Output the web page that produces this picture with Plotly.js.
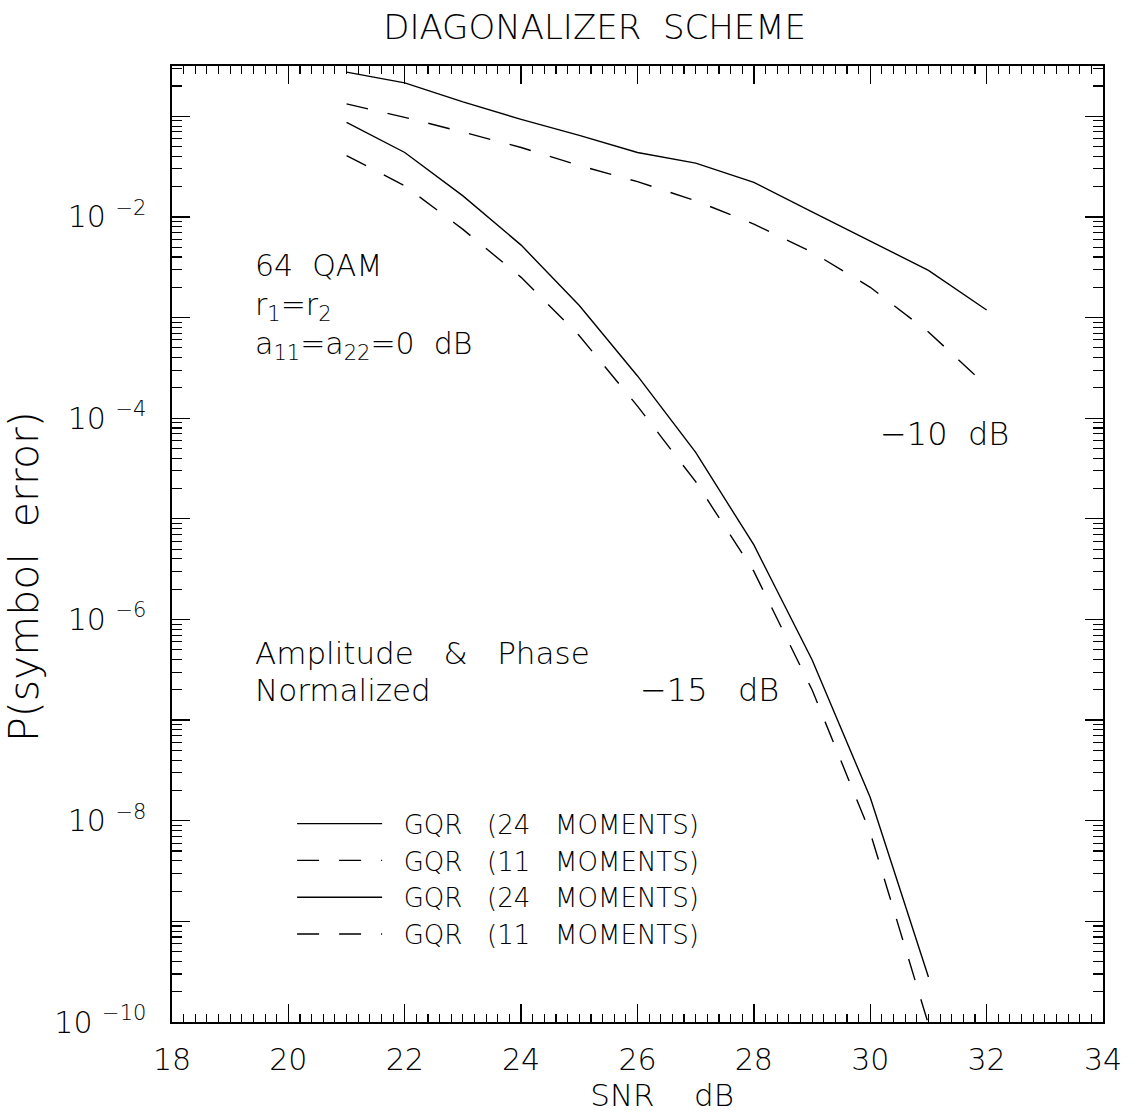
<!DOCTYPE html>
<html>
<head>
<meta charset="utf-8">
<script src="https://cdn.plot.ly/plotly-3.0.1.min.js"></script>
<style>html,body{margin:0;padding:0;background:#fff;}</style>
</head>
<body>
<div id="chart" style="width:1129px;height:1119px;"></div>
<script>
// SNR values (dB)
const snrMinus10 = [21, 22, 23, 24, 25, 26, 27, 28, 29, 30, 31, 32];
const snrMinus15 = [21, 22, 23, 24, 25, 26, 27, 28, 29, 30, 31];

// P(symbol error)
const gqr24Minus10 = [0.275, 0.215, 0.139, 0.0933, 0.0646, 0.0437, 0.0343, 0.0221, 0.0112, 0.00575, 0.00295, 0.00119];
const gqr11Minus10 = [0.133, 0.0977, 0.0697, 0.049, 0.0324, 0.0224, 0.0145, 0.0085, 0.00447, 0.0020, 0.00072, 0.00021];
const gqr24Minus15 = [0.0871, 0.0437, 0.0162, 0.00525, 0.00132, 2.63e-4, 4.57e-5, 5.5e-6, 3.98e-7, 1.7e-8, 2.8e-10];
const gqr11Minus15 = [0.0407, 0.0204, 0.00752, 0.00251, 6.6e-4, 1.32e-4, 2.34e-5, 3.0e-6, 2.0e-7, 7.6e-9, 9.5e-11];

const seriesNames = [
  '&nbsp;&nbsp;GQR&nbsp;&nbsp;&nbsp;(24&nbsp;&nbsp;&nbsp;MOMENTS)',
  '&nbsp;&nbsp;GQR&nbsp;&nbsp;&nbsp;(11&nbsp;&nbsp;&nbsp;MOMENTS)',
  '&nbsp;&nbsp;GQR&nbsp;&nbsp;&nbsp;(24&nbsp;&nbsp;&nbsp;MOMENTS)',
  '&nbsp;&nbsp;GQR&nbsp;&nbsp;&nbsp;(11&nbsp;&nbsp;&nbsp;MOMENTS)'
];

// y tick labels
const yTickVals = [1e-10, 1e-9, 1e-8, 1e-7, 1e-6, 1e-5, 1e-4, 1e-3, 1e-2, 1e-1];
const yTickText = ['10&nbsp;<sup>−10</sup>', '', '10&nbsp;<sup>−8</sup>', '', '10&nbsp;<sup>−6</sup>', '', '10&nbsp;<sup>−4</sup>', '', '10&nbsp;<sup>−2</sup>', ''];

const FONT = 'DejaVu Sans, Liberation Sans, sans-serif';
const W = 200;
const DASH = '22px,20px';

const traces = [
  {x: snrMinus10, y: gqr24Minus10, name: seriesNames[0], mode: 'lines', line: {color: '#000', width: 1.4, dash: 'solid'}},
  {x: snrMinus10, y: gqr11Minus10, name: seriesNames[1], mode: 'lines', line: {color: '#000', width: 1.4, dash: DASH}},
  {x: snrMinus15, y: gqr24Minus15, name: seriesNames[2], mode: 'lines', line: {color: '#000', width: 1.4, dash: 'solid'}},
  {x: snrMinus15, y: gqr11Minus15, name: seriesNames[3], mode: 'lines', line: {color: '#000', width: 1.4, dash: DASH}}
];

function note(text, x, ylog, size) {
  return {text: text, x: x, y: ylog, xref: 'x', yref: 'y', xanchor: 'left', yanchor: 'middle',
          showarrow: false, font: {color: '#000', size: size, family: FONT, weight: W}, align: 'left'};
}

const layout = {
  width: 1129, height: 1119,
  margin: {l: 172, r: 26, t: 66, b: 97},
  paper_bgcolor: '#fff', plot_bgcolor: '#fff',
  font: {family: FONT, size: 30, color: '#000', weight: W},
  showlegend: true,
  title: {
    text: 'DIAGONALIZER&nbsp;&nbsp;SCHEME',
    font: {family: FONT, size: 34, color: '#000', weight: W},
    xref: 'paper', x: 0.454, xanchor: 'center',
    yref: 'container', y: 0.976, yanchor: 'middle'
  },
  xaxis: {
    range: [18, 34], tickmode: 'linear', tick0: 18, dtick: 2,
    ticks: 'inside', ticklen: 18, tickwidth: 1.3, tickcolor: '#000',
    showline: true, linewidth: 1.6, linecolor: '#000', mirror: 'allticks',
    showgrid: false, zeroline: false,
    minor: {ticks: 'inside', dtick: 0.2, tick0: 18, ticklen: 8, tickwidth: 1.1, tickcolor: '#000', showgrid: false},
    tickfont: {family: FONT, size: 30, color: '#000', weight: W},
    ticklabelstandoff: 10,
    title: {text: '&nbsp;&nbsp;&nbsp;&nbsp;&nbsp;SNR&nbsp;&nbsp;&nbsp;&nbsp;dB', font: {family: FONT, size: 31, color: '#000', weight: W}, standoff: 4}
  },
  yaxis: {
    type: 'log', range: [-10, -0.5], tickmode: 'array', tickvals: yTickVals, ticktext: yTickText,
    ticks: 'inside', ticklen: 18, tickwidth: 1.3, tickcolor: '#000',
    showline: true, linewidth: 1.6, linecolor: '#000', mirror: 'allticks',
    showgrid: false, zeroline: false,
    minor: {ticks: 'inside', tickmode: 'linear', tick0: 0, dtick: 'D1', ticklen: 10, tickwidth: 1.1, tickcolor: '#000', showgrid: false},
    tickfont: {family: FONT, size: 30, color: '#000', weight: W},
    ticklabelstandoff: 18,
    title: {text: 'P(symbol&nbsp;&nbsp;error)&nbsp;&nbsp;&nbsp;&nbsp;&nbsp;', font: {family: FONT, size: 41, color: '#000', weight: W}, standoff: 8}
  },
  legend: {
    x: 0.129, xanchor: 'left', y: 0.232, yanchor: 'top',
    bgcolor: 'rgba(0,0,0,0)', borderwidth: 0,
    font: {family: FONT, size: 26, color: '#000', weight: W},
    itemwidth: 85, tracegroupgap: 0, traceorder: 'normal'
  },
  annotations: [
    note('64&nbsp;&nbsp;QAM<br>r<sub>1</sub>=r<sub>2</sub><br>a<sub>11</sub>=a<sub>22</sub>=0&nbsp;&nbsp;dB', 19.39, -2.885, 30),
    note('Amplitude&nbsp;&nbsp;&nbsp;&amp;&nbsp;&nbsp;&nbsp;Phase', 19.39, -6.33, 31),
    note('Normalized', 19.39, -6.70, 31),
    note('−15&nbsp;&nbsp;&nbsp;dB', 26.0, -6.70, 32),
    note('−10&nbsp;&nbsp;dB', 30.13, -4.16, 32)
  ]
};

Plotly.newPlot('chart', traces, layout, {displayModeBar: false, staticPlot: true});
</script>
</body>
</html>
